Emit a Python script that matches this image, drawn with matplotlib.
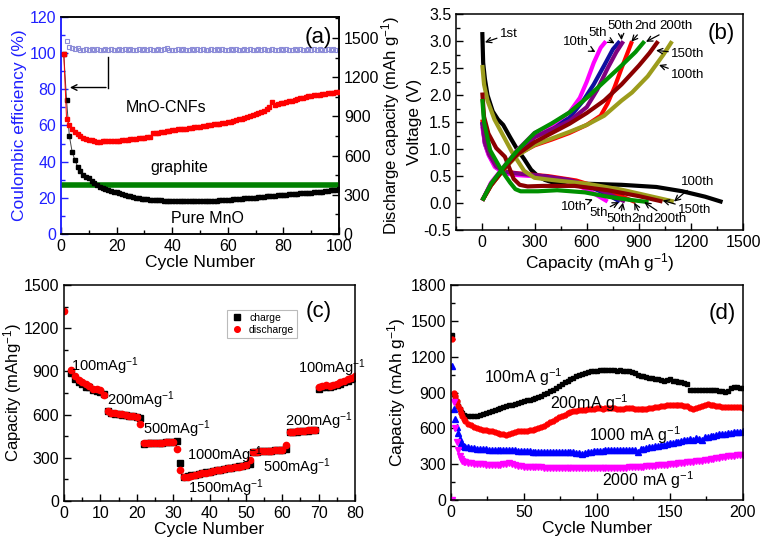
import numpy as np
import matplotlib
matplotlib.use("Agg")
import matplotlib.pyplot as plt
from matplotlib.ticker import AutoMinorLocator, FormatStrFormatter

plt.rcParams['font.family'] = ['Liberation Sans', 'DejaVu Sans']
plt.rcParams['mathtext.default'] = 'regular'

# ---------------- (a) cycling of MnO-CNFs vs pure MnO ----------------
cnf_cap = [1380, 880, 832, 800, 778, 762, 750, 738, 730, 722,
           716, 710, 705, 705, 708, 710, 712, 712, 714, 715,
           715, 718, 722, 720, 725, 728, 730, 733, 735, 738,
           740, 742, 770, 772, 775, 778, 782, 785, 790, 793,
           797, 800, 802, 800, 805, 808, 812, 815, 818, 822,
           825, 828, 832, 835, 838, 840, 843, 846, 850, 855,
           860, 865, 870, 876, 882, 888, 895, 902, 910, 918,
           925, 932, 940, 955, 975, 1010, 985, 995, 1000, 1005,
           1010, 1015, 1020, 1026, 1032, 1038, 1043, 1048, 1052, 1056,
           1060, 1064, 1067, 1070, 1073, 1076, 1079, 1082, 1084, 1087]
mno_cap = [1380, 1025, 752, 630, 566, 515, 480, 455, 438, 425,
           405, 390, 375, 362, 352, 344, 337, 330, 324, 318,
           312, 306, 300, 294, 289, 284, 279, 275, 271, 268,
           265, 263, 261, 259, 258, 257, 256, 255, 254, 254,
           253, 253, 252, 252, 252, 251, 251, 251, 251, 251,
           252, 252, 253, 254, 255, 256, 257, 258, 259, 261,
           263, 265, 267, 269, 271, 273, 275, 277, 278, 279,
           281, 283, 285, 287, 289, 291, 293, 295, 297, 299,
           301, 303, 304, 306, 308, 310, 311, 313, 315, 317,
           319, 321, 323, 325, 328, 331, 334, 337, 340, 344]
ce = [106.5, 103.5, 102.8, 102.2, 102.6, 101.8, 102.0, 102.4, 101.7, 102.1,
      101.9, 102.3, 101.8, 102.0, 102.5, 101.6, 102.2, 101.9, 102.0, 102.4,
      101.8, 102.1, 101.7, 102.3, 102.0, 101.9, 102.5, 101.8, 102.2, 101.6,
      102.4, 102.0, 101.7, 102.3, 101.9, 102.1, 102.6, 101.8, 102.0, 101.9,
      102.3, 101.7, 102.2, 102.0, 101.8, 102.4, 101.9, 102.1, 101.7, 102.2,
      102.0, 101.8, 102.5, 101.9, 102.1, 101.8, 102.3, 101.7, 102.0, 102.2,
      101.9, 102.4, 101.8, 102.0, 102.1, 101.7, 102.3, 101.9, 102.0, 102.2,
      101.8, 102.4, 101.9, 101.6, 102.1, 102.0, 101.8, 102.3, 101.9, 102.2,
      101.7, 102.0, 102.1, 101.8, 102.4, 101.9, 102.0, 102.2, 101.8, 102.1,
      101.9, 102.3, 101.7, 102.0, 102.2, 101.8, 102.1, 101.9, 101.6]
graphite_cap = 372

# ---------------- (b) charge / discharge profiles ----------------
curve_labels = ['1st', '2nd', '5th', '10th', '50th', '100th', '150th', '200th']
curve_colors = ['black', '#ff0000', '#1010a0', '#ff00ff', '#800080', '#9c9c1c', '#8b0000', '#009000']
dis_cap = {
    '1st': [0, 5, 15, 30, 60, 90, 120, 160, 200, 240, 280, 320, 360, 400, 600, 800, 1000, 1150, 1280, 1380],
    '2nd': [0, 15, 45, 90, 140, 210, 380, 540, 680, 790, 880],
    '5th': [0, 15, 40, 80, 130, 200, 350, 500, 620, 720, 790],
    '10th': [0, 15, 35, 72, 130, 200, 340, 450, 530, 620, 720],
    '50th': [0, 15, 40, 80, 130, 200, 350, 500, 640, 740, 820],
    '100th': [0, 10, 30, 70, 120, 170, 240, 300, 400, 600, 800, 950, 1100],
    '150th': [0, 10, 35, 80, 130, 180, 215, 260, 350, 530, 720, 900, 1035],
    '200th': [0, 10, 45, 110, 160, 190, 220, 320, 430, 590, 720, 850, 955],
}
dis_volt = {
    '1st': [3.17, 2.6, 2.3, 2.0, 1.7, 1.55, 1.45, 1.22, 1.0, 0.82, 0.62, 0.5, 0.43, 0.39, 0.36, 0.34, 0.3, 0.22, 0.12, 0.02],
    '2nd': [1.55, 1.15, 0.9, 0.68, 0.58, 0.55, 0.5, 0.42, 0.28, 0.14, 0.02],
    '5th': [1.5, 1.1, 0.88, 0.66, 0.57, 0.54, 0.5, 0.42, 0.3, 0.16, 0.03],
    '10th': [1.42, 1.1, 0.9, 0.67, 0.55, 0.52, 0.49, 0.44, 0.36, 0.22, 0.03],
    '50th': [1.5, 1.12, 0.9, 0.68, 0.58, 0.55, 0.5, 0.43, 0.3, 0.15, 0.03],
    '100th': [2.56, 2.2, 1.9, 1.55, 1.25, 0.95, 0.6, 0.47, 0.43, 0.36, 0.25, 0.14, 0.03],
    '150th': [2.05, 1.6, 1.29, 1.02, 0.86, 0.45, 0.34, 0.31, 0.32, 0.32, 0.24, 0.13, 0.03],
    '200th': [1.93, 1.5, 0.98, 0.61, 0.38, 0.26, 0.22, 0.22, 0.24, 0.2, 0.12, 0.06, 0.02],
}
chg_cap = {
    '2nd': [0, 50, 130, 200, 300, 400, 500, 600, 680, 720, 760, 800, 830, 860],
    '5th': [0, 50, 130, 200, 300, 400, 500, 580, 640, 700, 750, 790],
    '10th': [0, 50, 130, 200, 300, 400, 500, 560, 600, 640, 680, 710],
    '50th': [0, 50, 130, 200, 300, 400, 500, 600, 660, 720, 770, 810],
    '100th': [0, 50, 130, 200, 300, 400, 500, 600, 700, 800, 860, 950, 1040, 1090],
    '150th': [0, 50, 130, 200, 300, 400, 500, 600, 700, 800, 900, 960, 1010],
    '200th': [0, 50, 130, 200, 300, 400, 500, 600, 700, 800, 880, 932],
}
chg_volt = {
    '2nd': [0.05, 0.33, 0.66, 0.9, 1.07, 1.18, 1.3, 1.45, 1.62, 1.85, 2.15, 2.5, 2.75, 3.0],
    '5th': [0.05, 0.36, 0.68, 0.95, 1.25, 1.4, 1.58, 1.9, 2.2, 2.55, 2.85, 3.0],
    '10th': [0.05, 0.38, 0.7, 0.98, 1.3, 1.45, 1.68, 1.95, 2.25, 2.6, 2.88, 3.0],
    '50th': [0.05, 0.35, 0.67, 0.93, 1.22, 1.37, 1.52, 1.78, 2.1, 2.5, 2.8, 3.0],
    '100th': [0.05, 0.33, 0.65, 0.88, 1.08, 1.2, 1.32, 1.45, 1.62, 1.9, 2.05, 2.35, 2.75, 3.0],
    '150th': [0.05, 0.33, 0.66, 0.9, 1.13, 1.3, 1.47, 1.67, 1.9, 2.2, 2.55, 2.78, 3.0],
    '200th': [0.05, 0.36, 0.7, 0.97, 1.3, 1.48, 1.68, 1.95, 2.25, 2.55, 2.8, 3.0],
}

# ---------------- (c) rate capability ----------------
cyc_c = [0] + list(range(2, 81))
charge_c = [np.nan,
            890, 850, 825, 810, 795, 790, 770, 765, 760, 745,
            625, 610, 605, 603, 600, 595, 590, 588, 585, 578,
            398, 400, 402, 402, 404, 405, 407, 409, 411, 415,
            262, 168, 172, 178, 183, 188, 193, 198, 203, 208,
            213, 218, 222, 227, 231, 236, 240, 244, 248, 255,
            340, 342, 344, 346, 348, 350, 352, 354, 357, 360,
            478, 480, 482, 484, 486, 488, 490, 492,
            780, 790, 795, 795, 800, 808, 815, 825, 835, 845, 855]
discharge_c = [1320,
               910, 870, 840, 825, 810, 800, 778, 775, 768, 735,
               625, 610, 608, 607, 603, 596, 592, 590, 585, 535,
               400, 402, 404, 404, 405, 406, 408, 410, 412, 360,
               215, 165, 170, 175, 180, 186, 192, 197, 202, 207,
               212, 217, 221, 226, 230, 235, 239, 243, 248, 288,
               340, 342, 344, 346, 348, 350, 352, 355, 357, 392,
               480, 482, 484, 486, 488, 490, 492, 494,
               790, 800, 805, 800, 805, 815, 825, 835, 845, 855, 865]
rate_labels = ['100mAg$^{-1}$', '200mAg$^{-1}$', '500mAg$^{-1}$', '1000mAg$^{-1}$',
               '1500mAg$^{-1}$', '500mAg$^{-1}$', '200mAg$^{-1}$', '100mAg$^{-1}$']
rate_label_x = [2, 11.7, 21.7, 33.7, 34.1, 54.8, 60.7, 64.4]
rate_label_y = [933, 697, 498, 319, 88, 238, 551, 921]

# ---------------- (d) long cycling at several rates ----------------
cyc_d = list(range(1, 11)) + list(range(12, 201, 2))
cap_100 = [1380, 890, 860, 820, 790, 760, 740, 725, 712, 705,
           700, 700, 702, 705, 712, 720, 728, 735, 745, 755,
           765, 772, 780, 788, 795, 800, 808, 815, 822, 830,
           835, 842, 850, 858, 865, 875, 885, 898, 910, 925,
           940, 955, 968, 985, 995, 1010, 1025, 1040, 1050, 1058,
           1065, 1072, 1078, 1082, 1085, 1088, 1090, 1090, 1088, 1087,
           1088, 1085, 1086, 1084, 1082, 1080, 1075, 1065, 1050, 1040,
           1035, 1030, 1025, 1020, 1015, 1010, 1005, 1000, 1005, 1010,
           1000, 995, 990, 985, 980, 975, 925, 920, 918, 922,
           920, 918, 920, 925, 922, 918, 915, 910, 905, 912,
           940, 950, 945, 940, 935]
cap_200 = [1350, 895, 870, 830, 790, 760, 730, 700, 680, 665,
           640, 625, 612, 600, 595, 590, 585, 580, 575, 568,
           560, 555, 550, 548, 552, 560, 568, 575, 578, 580,
           582, 585, 588, 592, 600, 610, 620, 635, 650, 665,
           680, 695, 705, 715, 725, 735, 742, 748, 752, 756,
           758, 760, 762, 765, 768, 768, 766, 768, 770, 768,
           767, 766, 765, 766, 768, 770, 768, 765, 762, 760,
           762, 765, 768, 772, 776, 780, 785, 790, 795, 798,
           800, 798, 795, 792, 790, 785, 775, 765, 770, 778,
           790, 800, 805, 800, 795, 790, 785, 780, 778, 776,
           778, 780, 778, 776, 775]
cap_1000 = [1120, 760, 680, 615, 560, 510, 480, 465, 455, 448,
            440, 435, 432, 430, 428, 426, 425, 423, 420, 418,
            415, 418, 420, 422, 420, 418, 415, 414, 412, 410,
            410, 408, 406, 405, 404, 403, 402, 402, 403, 404,
            405, 405, 404, 403, 402, 400, 398, 397, 395, 385,
            395, 400, 405, 408, 410, 412, 414, 415, 416, 418,
            418, 419, 420, 420, 421, 422, 422, 420, 400, 425,
            430, 435, 440, 445, 450, 455, 460, 465, 470, 475,
            480, 485, 490, 495, 500, 505, 510, 505, 520, 515,
            505, 525, 530, 535, 540, 545, 550, 553, 556, 560,
            563, 566, 570, 573, 576]
cap_2000 = [0, 820, 600, 490, 420, 370, 345, 330, 320, 315,
            310, 308, 305, 302, 300, 298, 296, 294, 292, 290,
            292, 296, 300, 305, 306, 300, 292, 286, 282, 280,
            278, 277, 276, 275, 274, 273, 272, 271, 270, 270,
            269, 268, 268, 267, 267, 266, 266, 265, 265, 265,
            264, 264, 264, 264, 265, 265, 266, 266, 267, 268,
            268, 269, 270, 271, 272, 273, 274, 275, 276, 278,
            280, 282, 284, 286, 288, 290, 292, 294, 296, 298,
            300, 303, 306, 309, 312, 315, 318, 321, 324, 327,
            330, 334, 338, 342, 346, 350, 354, 358, 362, 366,
            369, 372, 375, 378, 381]

FS_TICK = 11.5
FS_LAB = 12.5


def style_axis(ax, right=False):
    ax.tick_params(which='both', direction='in', labelsize=FS_TICK, top=False, right=right)
    ax.tick_params(which='major', length=5, width=1)
    ax.tick_params(which='minor', length=3, width=1)
    ax.xaxis.set_minor_locator(AutoMinorLocator(2))
    ax.yaxis.set_minor_locator(AutoMinorLocator(2))
    for s in ax.spines.values():
        s.set_linewidth(1.1)


fig = plt.figure(figsize=(7.68, 5.48), dpi=100)

# ---------- panel (a) ----------
axa = fig.add_axes([0.0794, 0.573, 0.362, 0.396])
axa2 = axa.twinx()
blue = '#2020ff'
cyc_a = np.arange(1, len(cnf_cap) + 1)
axa2.plot(cyc_a, mno_cap, color='#444444', lw=0.7, marker='s', ms=3.2,
          mfc='black', mec='black', zorder=3)
axa2.plot(cyc_a, cnf_cap, color='red', lw=0.7, marker='s', ms=3.2,
          mfc='red', mec='red', zorder=3)
axa2.axhline(graphite_cap, color='#008000', lw=4, zorder=2)
axa.plot(np.arange(2, 2 + len(ce)), ce, ls='none', marker='s', ms=3.5,
         mfc='none', mec='#8c8cd8', mew=0.8)
axa.plot([16.8, 16.8], [98, 81], color='black', lw=1)
axa.annotate('', xy=(2.2, 81), xytext=(17.2, 81),
             arrowprops=dict(arrowstyle='->', color='black', lw=1))
axa.set_xlim(0, 100)
axa.set_ylim(0, 120)
axa2.set_ylim(0, 1660)
axa.set_xticks(np.arange(0, 101, 20))
axa.set_yticks(np.arange(0, 121, 20))
axa2.set_yticks(np.arange(0, 1501, 300))
style_axis(axa)
style_axis(axa2, right=True)
axa.tick_params(axis='y', which='both', colors=blue)
axa.spines['left'].set_color(blue)
axa2.spines['left'].set_color(blue)
axa.set_xlabel('Cycle Number', fontsize=FS_LAB, labelpad=1)
axa.set_ylabel('Coulombic efficiency (%)', fontsize=FS_LAB, color=blue, labelpad=2)
axa2.set_ylabel('Discharge capacity (mAh g$^{-1}$)', fontsize=12, labelpad=0)
axa2.text(37.7, 964, 'MnO-CNFs', fontsize=11.5, ha='center', va='center')
axa2.text(42.4, 505, 'graphite', fontsize=11.5, ha='center', va='center')
axa2.text(52.6, 118, 'Pure MnO', fontsize=11.5, ha='center', va='center')
axa2.text(92.5, 1500, '(a)', fontsize=16, ha='center', va='center')

# ---------- panel (b) ----------
axb = fig.add_axes([0.594, 0.580, 0.374, 0.394])
for lab, col in zip(curve_labels, curve_colors):
    axb.plot(dis_cap[lab], dis_volt[lab], color=col, lw=3, solid_capstyle='butt')
    if lab in chg_cap:
        axb.plot(chg_cap[lab], chg_volt[lab], color=col, lw=3, solid_capstyle='butt')
axb.set_xlim(-150, 1500)
axb.set_ylim(-0.5, 3.5)
axb.set_xticks(np.arange(0, 1501, 300))
axb.set_yticks(np.arange(-0.5, 3.51, 0.5))
axb.yaxis.set_major_formatter(FormatStrFormatter('%.1f'))
style_axis(axb)
axb.set_xlabel('Capacity (mAh g$^{-1}$)', fontsize=FS_LAB, labelpad=1)
axb.set_ylabel('Voltage (V)', fontsize=FS_LAB, labelpad=1)
axb.text(1370, 3.15, '(b)', fontsize=16, ha='center', va='center')

arr = dict(arrowstyle='->', color='black', lw=0.9, shrinkA=0, shrinkB=0)
fsb = 9.5
# text, text position, arrow tip, alignment
b_notes = [
    ('1st', (100, 3.13), (15, 2.98), 'left'),
    ('10th', (540, 2.99), (650, 2.80), 'center'),
    ('5th', (660, 3.15), (760, 2.96), 'center'),
    ('50th', (795, 3.28), (800, 3.02), 'center'),
    ('2nd', (935, 3.28), (856, 2.99), 'center'),
    ('200th', (1112, 3.28), (940, 2.99), 'center'),
    ('150th', (1084, 2.77), (998, 2.83), 'left'),
    ('100th', (1084, 2.37), (1015, 2.56), 'left'),
    ('100th', (1141, 0.40), (1101, 0.03), 'left'),
    ('150th', (1124, -0.12), (1036, 0.05), 'left'),
    ('200th', (1078, -0.30), (930, 0.02), 'center'),
    ('2nd', (922, -0.30), (873, 0.01), 'center'),
    ('50th', (789, -0.30), (808, 0.01), 'center'),
    ('5th', (666, -0.18), (785, 0.02), 'center'),
    ('10th', (527, -0.07), (635, 0.07), 'center'),
]
for txt, pos, tip, ha in b_notes:
    axb.annotate(txt, xy=tip, xytext=pos, fontsize=fsb, ha=ha, va='center',
                 arrowprops=arr)

# ---------- panel (c) ----------
axc = fig.add_axes([0.0833, 0.0858, 0.379, 0.394])
axc.plot(cyc_c, charge_c, ls='none', marker='s', ms=4.5, color='black', label='charge')
axc.plot(cyc_c, discharge_c, ls='none', marker='o', ms=4.5, color='red', label='discharge')
axc.set_xlim(0, 80)
axc.set_ylim(0, 1500)
axc.set_xticks(np.arange(0, 81, 10))
axc.set_yticks(np.arange(0, 1501, 300))
style_axis(axc)
axc.set_xlabel('Cycle Number', fontsize=FS_LAB, labelpad=1)
axc.set_ylabel('Capacity (mAhg$^{-1}$)', fontsize=12, labelpad=0)
for t, x, y in zip(rate_labels, rate_label_x, rate_label_y):
    axc.text(x, y, t, fontsize=10.5, ha='left', va='center')
axc.text(70, 1315, '(c)', fontsize=16, ha='center', va='center')
leg = axc.legend(loc='upper right', bbox_to_anchor=(0.82, 0.91), fontsize=7.5,
                 frameon=True, fancybox=False, edgecolor='#aaaaaa',
                 handlelength=1.2, handletextpad=0.6, borderpad=0.3,
                 labelspacing=0.2, markerscale=0.9)
leg.get_frame().set_linewidth(0.8)

# ---------- panel (d) ----------
axd = fig.add_axes([0.587, 0.0876, 0.380, 0.392])
axd.plot(cyc_d, cap_100, ls='none', marker='s', ms=3.5, color='black')
axd.plot(cyc_d, cap_200, ls='none', marker='o', ms=3.5, color='red')
axd.plot(cyc_d, cap_1000, ls='none', marker='^', ms=3.8, color='#0000ff')
axd.plot(cyc_d, cap_2000, ls='none', marker='v', ms=3.8, color='#ff00ff')
axd.set_xlim(0, 200)
axd.set_ylim(0, 1800)
axd.set_xticks(np.arange(0, 201, 50))
axd.set_yticks(np.arange(0, 1801, 300))
style_axis(axd)
axd.set_xlabel('Cycle Number', fontsize=FS_LAB, labelpad=1)
axd.set_ylabel('Capacity (mAh g$^{-1}$)', fontsize=FS_LAB, labelpad=2)
axd.text(22.8, 1033, '100mA g$^{-1}$', fontsize=11.5, ha='left', va='center')
axd.text(68.3, 809, '200mA g$^{-1}$', fontsize=11.5, ha='left', va='center')
axd.text(94.5, 544, '1000 mA g$^{-1}$', fontsize=11.5, ha='left', va='center')
axd.text(103.6, 167, '2000 mA g$^{-1}$', fontsize=11.5, ha='left', va='center')
axd.text(186, 1563, '(d)', fontsize=16, ha='center', va='center')

fig.savefig('out.png', dpi=100)
